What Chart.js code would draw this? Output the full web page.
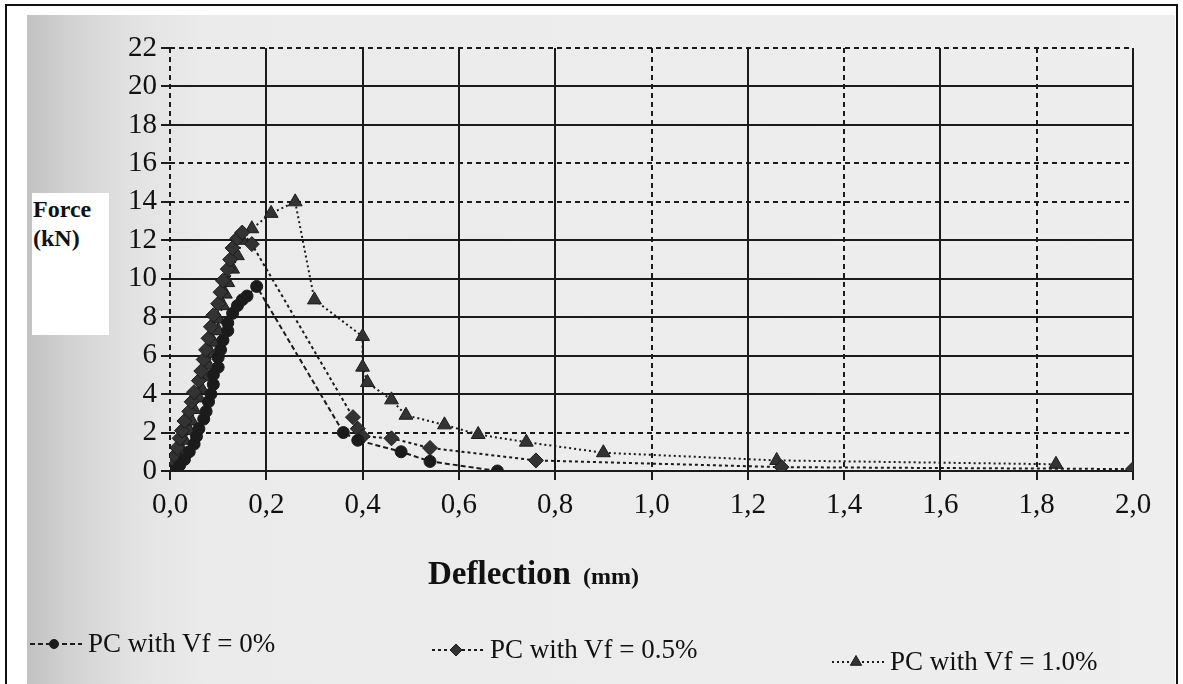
<!DOCTYPE html>
<html>
<head>
<meta charset="utf-8">
<script src="https://cdn.jsdelivr.net/npm/chart.js@4.4.1/dist/chart.umd.min.js"></script>
<style>
body { margin: 0; background: #fff; }
#page { position: relative; width: 1183px; height: 684px; overflow: hidden; background: #fff; }
#frame { position: absolute; left: 5px; top: 4px; width: 1169px; height: 700px; border: 2px solid #111; }
#scan { position: absolute; left: 27px; top: 15px; width: 1148px; height: 669px;
  background: linear-gradient(to right, #c2c2c2 0px, #d4d4d4 50px, #e3e3e3 110px, #ebebeb 180px, #eeeeee 100%); }
#chart { position: absolute; left: 0; top: 0; }
#ylab { position: absolute; left: 32px; top: 193px; width: 77px; height: 142px; background: #fff;
  font: bold 24px "Liberation Serif", serif; line-height: 29px; color: #111; padding: 2px 0 0 1px; box-sizing: border-box; }
#xlab { position: absolute; left: 428px; top: 557px; font: bold 33px "Liberation Serif", serif; line-height: 33px; color: #111; white-space: nowrap; }
#xlab span { font-size: 24px; margin-left: 12px; }
.leg { position: absolute; display: flex; align-items: center; font: 27px "Liberation Serif", serif; color: #111; white-space: nowrap; }
.leg canvas { margin-right: 6px; }
</style>
</head>
<body>
<div id="page">
  <div id="scan"></div>
  <div id="frame"></div>
  <canvas id="chart" width="1183" height="684"></canvas>
  <div id="ylab">Force<br>(kN)</div>
  <div id="xlab">Deflection<span>(mm)</span></div>
  <div id="legend"></div>
</div>
<script>
// values
var seriesNames = ['PC with Vf = 0%', 'PC with Vf = 0.5%', 'PC with Vf = 1.0%'];

var defl0  = [0, 0.02, 0.03, 0.04, 0.05, 0.055, 0.06, 0.07, 0.075, 0.08, 0.085, 0.09, 0.09, 0.10, 0.10, 0.105, 0.11, 0.12, 0.12, 0.13, 0.14, 0.15, 0.16, 0.18, 0.36, 0.39, 0.48, 0.54, 0.68];
var force0 = [0, 0.3, 0.6, 1.0, 1.4, 1.8, 2.2, 2.7, 3.1, 3.6, 4.0, 4.5, 5.0, 5.4, 5.9, 6.3, 6.8, 7.3, 7.7, 8.2, 8.6, 8.9, 9.1, 9.6, 2.0, 1.6, 1.0, 0.5, 0.0];

var defl05  = [0, 0.005, 0.01, 0.015, 0.02, 0.025, 0.03, 0.04, 0.045, 0.05, 0.06, 0.065, 0.07, 0.075, 0.08, 0.085, 0.09, 0.10, 0.105, 0.11, 0.12, 0.125, 0.13, 0.14, 0.15, 0.17, 0.38, 0.39, 0.40, 0.46, 0.54, 0.76, 1.27, 2.0];
var force05 = [0, 0.4, 0.8, 1.2, 1.7, 2.1, 2.6, 3.1, 3.6, 4.1, 4.7, 5.2, 5.8, 6.3, 6.9, 7.5, 8.1, 8.7, 9.3, 9.9, 10.5, 11.0, 11.6, 12.1, 12.4, 11.8, 2.8, 2.2, 1.8, 1.7, 1.2, 0.55, 0.2, 0.1];

var defl10  = [0, 0.01, 0.02, 0.025, 0.03, 0.04, 0.045, 0.05, 0.06, 0.065, 0.07, 0.08, 0.085, 0.09, 0.10, 0.10, 0.11, 0.115, 0.12, 0.13, 0.14, 0.15, 0.17, 0.21, 0.26, 0.30, 0.40, 0.40, 0.41, 0.46, 0.49, 0.57, 0.64, 0.74, 0.90, 1.26, 1.84];
var force10 = [0, 0.3, 0.7, 1.1, 1.6, 2.1, 2.6, 3.2, 3.8, 4.3, 4.9, 5.5, 6.1, 6.7, 7.3, 7.9, 8.6, 9.2, 9.8, 10.5, 11.2, 12.0, 12.6, 13.4, 14.0, 8.9, 7.0, 5.4, 4.6, 3.7, 2.9, 2.4, 1.9, 1.5, 0.95, 0.55, 0.35];

var xTickLabels = ['0,0', '0,2', '0,4', '0,6', '0,8', '1,0', '1,2', '1,4', '1,6', '1,8', '2,0'];
var yTickLabels = ['0', '2', '4', '6', '8', '10', '12', '14', '16', '18', '20', '22'];

// which grid lines look dashed in the scan
var xDashed = [true, false, false, false, false, true, false, true, false, true, false];
var yDashed = [false, true, false, false, false, false, false, true, true, false, false, true];

function toPoints(xs, ys) {
	var out = [];
	for (var i = 0; i < xs.length; i++) out.push({ x: xs[i], y: ys[i] });
	return out;
}

var ink = '#1b1b1b';
var styles = [
	{ pointStyle: 'circle', radius: 6, fill: '#1b1b1b', dash: [5, 3] },
	{ pointStyle: 'rectRot', radius: 7.5, fill: '#333333', dash: [3, 3] },
	{ pointStyle: 'triangle', radius: 8, fill: '#333333', dash: [2, 3] }
];
var xs = [defl0, defl05, defl10];
var ys = [force0, force05, force10];

var datasets = seriesNames.map(function(name, i) {
	return {
		label: name,
		data: toPoints(xs[i], ys[i]),
		showLine: true,
		borderColor: ink,
		borderWidth: 2,
		borderDash: styles[i].dash,
		pointStyle: styles[i].pointStyle,
		pointRadius: styles[i].radius,
		pointBackgroundColor: styles[i].fill,
		pointBorderColor: ink,
		pointBorderWidth: 1,
		tension: 0
	};
});

var ctx = document.getElementById('chart').getContext('2d');
var chart = new Chart(ctx, {
	type: 'scatter',
	data: { datasets: datasets },
	options: {
		responsive: false,
		animation: false,
		devicePixelRatio: 1,
		layout: { padding: { top: 48, right: 50, bottom: 0, left: 0 } },
		plugins: { legend: { display: false }, tooltip: { enabled: false } },
		scales: {
			x: {
				type: 'linear', min: 0, max: 2,
				afterFit: function(scale) { scale.height = 213; },
				ticks: {
					stepSize: 0.2,
					autoSkip: false,
					maxRotation: 0,
					padding: 8,
					color: '#111',
					font: { family: 'Liberation Serif', size: 29 },
					callback: function(value, index) { return xTickLabels[index]; }
				},
				grid: { color: ink, lineWidth: 2, tickLength: 9 },
				border: {
					display: false,
					dash: function(c) { return xDashed[c.index] ? [5, 4] : []; }
				}
			},
			y: {
				type: 'linear', min: 0, max: 22,
				afterFit: function(scale) { scale.width = 170; },
				ticks: {
					stepSize: 2,
					autoSkip: false,
					padding: 4,
					color: '#111',
					font: { family: 'Liberation Serif', size: 29 },
					callback: function(value, index) { return yTickLabels[index]; }
				},
				grid: { color: ink, lineWidth: 2, tickLength: 9 },
				border: {
					display: false,
					dash: function(c) { return yDashed[c.index] ? [5, 4] : []; }
				}
			}
		}
	}
});

// HTML legend built from the chart datasets
function drawMark(c, style, x, y, r, fill) {
	c.fillStyle = fill;
	c.strokeStyle = ink;
	c.lineWidth = 1;
	c.beginPath();
	if (style === 'circle') {
		c.arc(x, y, r, 0, Math.PI * 2);
	} else if (style === 'rectRot') {
		c.moveTo(x, y - r); c.lineTo(x + r, y); c.lineTo(x, y + r); c.lineTo(x - r, y);
	} else {
		c.moveTo(x, y - r); c.lineTo(x + r * 0.87, y + r * 0.5); c.lineTo(x - r * 0.87, y + r * 0.5);
	}
	c.closePath();
	c.fill();
	c.stroke();
}

var legendPos = [[30, 628], [432, 634], [832, 646]];
var legend = document.getElementById('legend');
chart.data.datasets.forEach(function(ds, i) {
	var item = document.createElement('div');
	item.className = 'leg';
	item.style.left = legendPos[i][0] + 'px';
	item.style.top = legendPos[i][1] + 'px';
	var cv = document.createElement('canvas');
	cv.width = 52; cv.height = 24;
	var c = cv.getContext('2d');
	c.strokeStyle = ink; c.lineWidth = 2; c.setLineDash(styles[i].dash);
	c.beginPath(); c.moveTo(0, 12); c.lineTo(52, 12); c.stroke();
	c.setLineDash([]);
	drawMark(c, ds.pointStyle, 24, 12, ds.pointRadius - 1.5, ds.pointBackgroundColor);
	item.appendChild(cv);
	var t = document.createElement('span');
	t.textContent = ds.label;
	item.appendChild(t);
	legend.appendChild(item);
});
</script>
</body>
</html>
